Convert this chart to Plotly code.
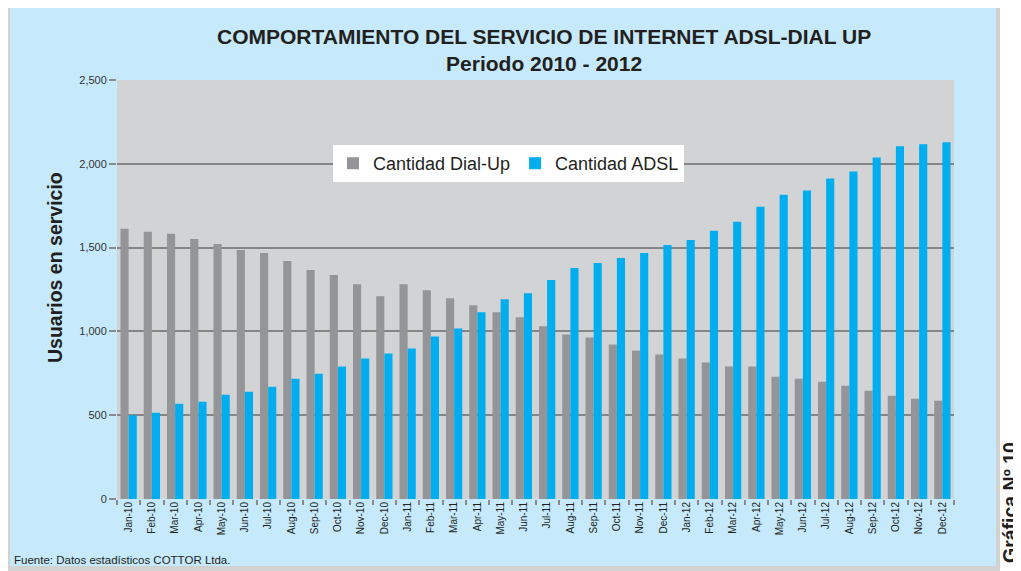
import plotly.graph_objects as go

months = ["Jan-10", "Feb-10", "Mar-10", "Apr-10", "May-10", "Jun-10", "Jul-10", "Aug-10", "Sep-10", "Oct-10", "Nov-10", "Dec-10",
          "Jan-11", "Feb-11", "Mar-11", "Apr-11", "May-11", "Jun-11", "Jul-11", "Aug-11", "Sep-11", "Oct-11", "Nov-11", "Dec-11",
          "Jan-12", "Feb-12", "Mar-12", "Apr-12", "May-12", "Jun-12", "Jul-12", "Aug-12", "Sep-12", "Oct-12", "Nov-12", "Dec-12"]

dial_up = [1612, 1594, 1582, 1552, 1522, 1486, 1468, 1420, 1366, 1336, 1282, 1210,
           1282, 1246, 1198, 1156, 1114, 1084, 1030, 982, 964, 922, 886, 862,
           838, 814, 790, 790, 730, 718, 700, 676, 646, 616, 598, 586]

adsl = [500, 514, 568, 580, 622, 640, 670, 718, 748, 790, 838, 868,
        898, 970, 1018, 1114, 1192, 1228, 1306, 1378, 1408, 1438, 1468, 1516,
        1546, 1600, 1654, 1744, 1816, 1840, 1912, 1954, 2038, 2104, 2116, 2128]

y_ticks = [0, 500, 1000, 1500, 2000, 2500]

# page body adds an 8px offset; work in reference pixel coordinates
OFF = 8
W, H = 1021 - OFF, 571 - OFF
RL, RR, RT, RB = 117, 954, 80, 499          # plot area in reference pixels
L, R, T, B = RL - OFF, RR - OFF, RT - OFF, RB - OFF


def px_x(p):
    return (p - RL) / (RR - RL)


def px_y(p):
    return (RB - p) / (RB - RT)


fig = go.Figure()
fig.add_trace(go.Bar(name="Cantidad Dial-Up", x=months, y=dial_up, marker_color="#939598", marker_line_width=0))
fig.add_trace(go.Bar(name="Cantidad ADSL", x=months, y=adsl, marker_color="#00adef", marker_line_width=0))

fig.update_layout(
    width=W, height=H,
    margin=dict(l=L, r=W - R, t=T, b=H - B),
    paper_bgcolor="white",
    plot_bgcolor="#d2d3d5",
    barmode="group",
    bargap=0.3,
    bargroupgap=0,
    font=dict(family="Liberation Sans, Arial, sans-serif", color="#231f20"),
    legend=dict(
        orientation="h",
        x=px_x(333), y=px_y(145), xanchor="left", yanchor="top",
        bgcolor="white",
        font=dict(size=18, color="#231f20"),
        itemsizing="constant",
    ),
    showlegend=True,
)

fig.update_xaxes(
    type="category",
    tickangle=-90,
    tickfont=dict(size=10, family="Liberation Sans, Arial, sans-serif", color="#231f20"),
    ticks="outside", ticklen=5, tickwidth=2, tickcolor="#8a8a8a",
    tickson="boundaries",
    showgrid=False, showline=False, zeroline=False,
)
fig.update_yaxes(
    range=[0, 2500],
    tickvals=y_ticks,
    tickformat=",",
    tickfont=dict(size=11, color="#333333"),
    ticks="outside", ticklen=7, tickwidth=2, tickcolor="#8a8a8a",
    showgrid=True, gridcolor="#858585", gridwidth=2,
    zeroline=False, showline=False,
)

# background frame (drawn below the traces, in order)
fig.add_shape(type="rect", xref="paper", yref="paper", layer="below",
              x0=px_x(3), x1=px_x(1000), y0=px_y(575), y1=px_y(4),
              fillcolor="#d2d2d2", line_width=0)
fig.add_shape(type="rect", xref="paper", yref="paper", layer="below",
              x0=px_x(10), x1=px_x(996), y0=px_y(566), y1=px_y(8),
              fillcolor="#c6e9fb", line_width=0)
fig.add_shape(type="rect", xref="paper", yref="paper", layer="below",
              x0=0, x1=1, y0=0, y1=1,
              fillcolor="#d2d3d5", line_width=0)

fig.add_annotation(text="<b>COMPORTAMIENTO DEL SERVICIO DE INTERNET ADSL-DIAL UP<br>Periodo 2010 - 2012</b>",
                   xref="paper", yref="paper", x=px_x(544), y=px_y(50),
                   xanchor="center", yanchor="middle", showarrow=False,
                   font=dict(size=21, color="#231f20"))
fig.add_annotation(text="<b>Usuarios en servicio</b>", textangle=-90,
                   xref="paper", yref="paper", x=px_x(55), y=px_y(268),
                   xanchor="center", yanchor="middle", showarrow=False,
                   font=dict(size=19.5, color="#231f20"))
fig.add_annotation(text="Fuente: Datos estadísticos COTTOR Ltda.",
                   xref="paper", yref="paper", x=px_x(12), y=px_y(560),
                   xanchor="left", yanchor="middle", showarrow=False,
                   font=dict(size=11.5, color="#231f20"))
fig.add_annotation(text="<b>Gráfica Nº 10</b>", textangle=-90,
                   xref="paper", yref="paper", x=px_x(1010), y=px_y(503),
                   xanchor="center", yanchor="middle", showarrow=False,
                   font=dict(size=19.5, color="#231f20"))

fig.write_html("out.html")
